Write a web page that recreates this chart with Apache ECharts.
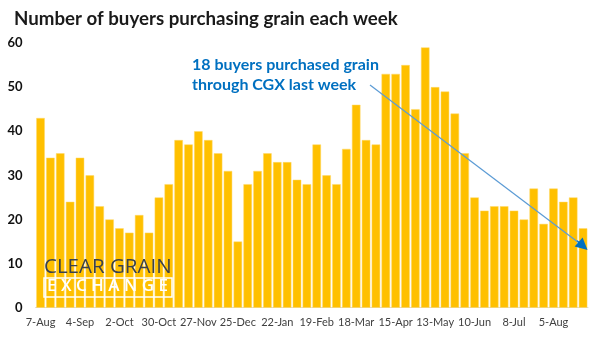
<!DOCTYPE html>
<html>
<head>
<meta charset="utf-8">
<script src="https://cdn.jsdelivr.net/npm/echarts@6/dist/echarts.min.js"></script>
<style>html,body{margin:0;padding:0;background:#fff;}#c{width:602px;height:338px;}</style>
</head>
<body>
<div id="c"></div>
<script>
var weeks = ['7-Aug','14-Aug','21-Aug','28-Aug','4-Sep','11-Sep','18-Sep','25-Sep','2-Oct','9-Oct','16-Oct','23-Oct','30-Oct','6-Nov','13-Nov','20-Nov','27-Nov','4-Dec','11-Dec','18-Dec','25-Dec','1-Jan','8-Jan','15-Jan','22-Jan','29-Jan','5-Feb','12-Feb','19-Feb','26-Feb','4-Mar','11-Mar','18-Mar','25-Mar','1-Apr','8-Apr','15-Apr','22-Apr','29-Apr','6-May','13-May','20-May','27-May','3-Jun','10-Jun','17-Jun','24-Jun','1-Jul','8-Jul','15-Jul','22-Jul','29-Jul','5-Aug','12-Aug','19-Aug','26-Aug'];
var buyers = [43,34,35,24,34,30,23,20,18,17,21,17,25,28,38,37,40,38,35,31,15,28,31,35,33,33,29,28,37,30,28,36,46,38,37,53,53,55,45,59,50,49,44,35,25,22,23,23,22,20,27,19,27,24,25,18];
var yTicks = {min: 0, max: 60, interval: 10};
var arrowFrom = [33.4, 50.5];
var arrowHeadFrom = [54.4, 15.2];
var arrowTo = [55.0, 14.0];
var titleText = 'Number of buyers purchasing grain each week';
var noteLines = ['18 buyers purchased grain', 'through CGX last week'];

var chart = echarts.init(document.getElementById('c'), null, {renderer: 'canvas'});
var FONT = 'Lato, "Open Sans", sans-serif';
chart.setOption({
  animation: false,
  backgroundColor: '#fff',
  title: {
    text: titleText, left: 9, top: 4,
    textStyle: {fontFamily: FONT, fontWeight: 'bold', fontSize: 18.7, color: '#1a1a1a'}
  },
  grid: {left: 35.6, right: 14, top: 43, bottom: 30.3, containLabel: false},
  xAxis: [{
    type: 'category', data: weeks,
    axisTick: {show: false},
    axisLine: {lineStyle: {color: '#d9d9d9', width: 1}},
    axisLabel: {interval: 3, fontFamily: FONT, fontSize: 11, color: '#404040', margin: 9}
  }, {
    type: 'value', min: -0.5, max: weeks.length - 0.5, show: false
  }],
  yAxis: {
    type: 'value', min: yTicks.min, max: yTicks.max, interval: yTicks.interval,
    axisLine: {show: false}, axisTick: {show: false}, splitLine: {show: false},
    axisLabel: {fontFamily: FONT, fontWeight: 'bold', fontSize: 13, color: '#111', margin: 13}
  },
  series: [{
    type: 'bar', data: buyers, barCategoryGap: '14%',
    itemStyle: {color: '#FFC000', borderColor: '#FFD966', borderWidth: 0.5}
  }, {
    type: 'line', xAxisIndex: 1, data: [], silent: true, z: 5,
    markLine: {
      silent: true, z: 5,
      symbol: ['none', 'none'],
      label: {show: false},
      lineStyle: {color: '#5B9BD5', width: 1.2, type: 'solid'},
      data: [
        [{coord: arrowFrom}, {coord: arrowTo}],
        [{coord: arrowHeadFrom, symbol: 'none', lineStyle: {color: '#0070C0', width: 1.2}},
         {coord: arrowTo, symbol: 'triangle', symbolSize: 12, lineStyle: {color: '#0070C0'}}]
      ]
    }
  }],
  graphic: [
    {type: 'text', z: 100, left: 192, top: 57, style: {text: noteLines[0], fontFamily: FONT, fontWeight: 'bold', fontSize: 16, fill: '#0070C0'}},
    {type: 'text', z: 100, left: 192, top: 77, style: {text: noteLines[1], fontFamily: FONT, fontWeight: 'bold', fontSize: 16, fill: '#0070C0'}},
    {type: 'text', z: 100, left: 44, top: 257, style: {text: 'CLEAR GRAIN', fontFamily: '"Open Sans", sans-serif', fontWeight: 400, fontSize: 20.5, fill: '#3A414C'}},
    {type: 'rect', z: 100, shape: {x: 44, y: 278, width: 128, height: 19}, style: {fill: 'none', stroke: '#fff', lineWidth: 1.5}},
    {type: 'text', z: 100, left: 47, top: 278, style: {text: 'E X C H A N G E', fontFamily: '"Open Sans", sans-serif', fontWeight: 600, fontSize: 17, fill: '#fff'}}
  ]
});
</script>
</body>
</html>
